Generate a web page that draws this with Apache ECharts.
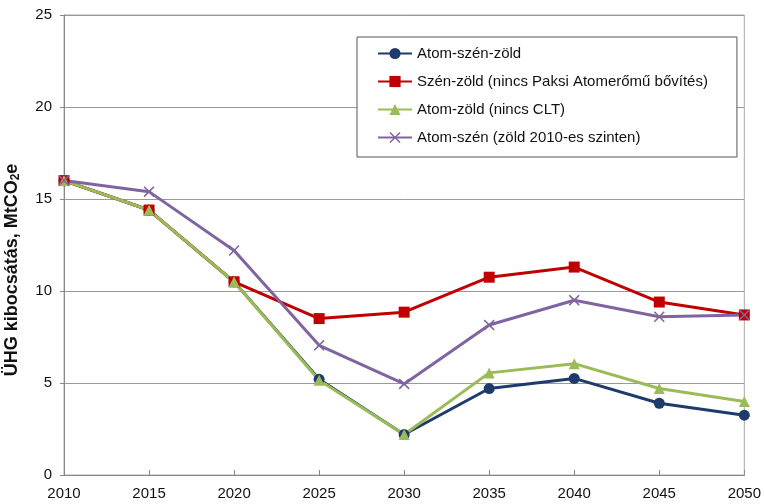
<!DOCTYPE html>
<html>
<head>
<meta charset="utf-8">
<script src="https://cdn.jsdelivr.net/npm/echarts@6/dist/echarts.min.js"></script>
<style>
  html, body { margin: 0; padding: 0; background: #fff; }
  #chart { width: 764px; height: 504px; }
</style>
</head>
<body>
<div id="chart"></div>
<script>
// Years on the horizontal axis
const years = ['2010', '2015', '2020', '2025', '2030', '2035', '2040', '2045', '2050'];

// Greenhouse-gas emissions per scenario, MtCO2e
const atomSzenZold = [16.0, 14.4, 10.5, 5.2, 2.2, 4.7, 5.25, 3.9, 3.25];
const szenZold     = [16.0, 14.4, 10.5, 8.5, 8.85, 10.75, 11.3, 9.4, 8.7];
const atomZold     = [16.0, 14.4, 10.5, 5.15, 2.2, 5.55, 6.05, 4.7, 4.0];
const atomSzen     = [16.0, 15.4, 12.2, 7.05, 4.95, 8.15, 9.5, 8.6, 8.7];

const seriesNames = [
  'Atom-szén-zöld',
  'Szén-zöld (nincs Paksi Atomerőmű bővítés)',
  'Atom-zöld (nincs CLT)',
  'Atom-szén (zöld 2010-es szinten)'
];

const FONT = 'Liberation Sans, Arial, sans-serif';
const crossPath = 'path://M0,1 L1,0 L5,4 L9,0 L10,1 L6,5 L10,9 L9,10 L5,6 L1,10 L0,9 L4,5 Z';

function line(name, data, color, symbol, size) {
  return {
    name: name,
    type: 'line',
    data: data,
    symbol: symbol,
    symbolSize: size,
    showAllSymbol: true,
    lineStyle: { color: color, width: 3 },
    itemStyle: { color: color },
    emphasis: { disabled: true },
    animation: false
  };
}

const chart = echarts.init(document.getElementById('chart'));
chart.setOption({
  backgroundColor: '#fff',
  textStyle: { fontFamily: FONT },
  grid: {
    left: 64, right: 16, top: 15, bottom: 29,
    show: true, borderColor: '#aaa', borderWidth: 1
  },
  legend: {
    orient: 'vertical',
    left: 357, top: 37,
    padding: [9, 29, 12, 20],
    itemGap: 13,
    itemWidth: 34, itemHeight: 14,
    backgroundColor: '#fff',
    borderColor: '#555', borderWidth: 1,
    textStyle: { fontSize: 15, color: '#111', fontFamily: FONT },
    data: seriesNames
  },
  // vertical axis title with subscript
  graphic: [{
    type: 'text',
    x: 12, y: 270,
    rotation: Math.PI / 2,
    style: {
      text: '{a|ÜHG kibocsátás, MtCO}{s|2}{a|e}',
      align: 'center',
      verticalAlign: 'middle',
      rich: {
        a: { fontSize: 18, fontWeight: 'bold', fill: '#111', fontFamily: FONT },
        s: { fontSize: 12, fontWeight: 'bold', fill: '#111', fontFamily: FONT, padding: [8, 0, 0, 0] }
      }
    }
  }],
  xAxis: {
    type: 'category',
    data: years,
    boundaryGap: false,
    axisLine: { lineStyle: { color: '#888' } },
    axisTick: { inside: true, length: 5, lineStyle: { color: '#888' } },
    axisLabel: { fontSize: 15, color: '#111', margin: 11 },
    splitLine: { show: false }
  },
  yAxis: {
    type: 'value',
    min: 0, max: 25, interval: 5,
    axisLine: { show: true, lineStyle: { color: '#888' } },
    axisTick: { show: true, length: 4, lineStyle: { color: '#888' } },
    axisLabel: { fontSize: 15, color: '#111', margin: 12 },
    splitLine: { lineStyle: { color: '#999', width: 1 } }
  },
  series: [
    line(seriesNames[0], atomSzenZold, '#1f3b6b', 'circle', 11),
    line(seriesNames[1], szenZold, '#c00000', 'rect', 11),
    line(seriesNames[2], atomZold, '#9bbb59', 'triangle', 11),
    line(seriesNames[3], atomSzen, '#8064a2', crossPath, 11)
  ]
});
</script>
</body>
</html>
